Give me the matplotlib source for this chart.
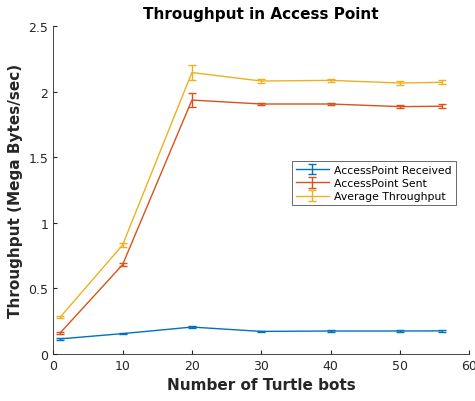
import matplotlib
matplotlib.use("Agg")
import matplotlib.pyplot as plt

bots = [1, 10, 20, 30, 40, 50, 56]

received = [0.115, 0.155, 0.205, 0.172, 0.175, 0.175, 0.176]
received_err = [0.005, 0.005, 0.008, 0.005, 0.005, 0.005, 0.005]

sent = [0.16, 0.68, 1.935, 1.905, 1.905, 1.885, 1.888]
sent_err = [0.008, 0.012, 0.055, 0.01, 0.01, 0.01, 0.015]

avg = [0.28, 0.83, 2.145, 2.08, 2.085, 2.065, 2.07]
avg_err = [0.008, 0.012, 0.055, 0.012, 0.012, 0.012, 0.015]

fig = plt.figure(figsize=(4.75, 4.02), dpi=100)
ax = fig.add_axes([0.112, 0.117, 0.876, 0.816])

cols = ['#0072BD', '#D95319', '#EDB120']
ax.errorbar(bots, received, yerr=received_err, color=cols[0], lw=1, capsize=3, label='AccessPoint Received')
ax.errorbar(bots, sent, yerr=sent_err, color=cols[1], lw=1, capsize=3, label='AccessPoint Sent')
ax.errorbar(bots, avg, yerr=avg_err, color=cols[2], lw=1, capsize=3, label='Average Throughput')

ax.set_xlim(0, 60)
ax.set_ylim(0, 2.5)
ax.set_xticks([0, 10, 20, 30, 40, 50, 60])
ax.set_yticks([0, 0.5, 1, 1.5, 2, 2.5])
ax.set_yticklabels(['0', '0.5', '1', '1.5', '2', '2.5'])
ax.spines['top'].set_visible(False)
ax.spines['right'].set_visible(False)
for s in ['left', 'bottom']:
    ax.spines[s].set_color('#262626')
    ax.spines[s].set_linewidth(0.6)
ax.tick_params(direction='in', labelsize=9, colors='#262626', length=3)

ax.set_title('Throughput in Access Point', fontsize=11, fontweight='bold', color='#000000')
ax.set_xlabel('Number of Turtle bots', fontsize=11, fontweight='bold', color='#262626')
ax.set_ylabel('Throughput (Mega Bytes/sec)', fontsize=11, fontweight='bold', color='#262626')

leg = ax.legend(loc='upper left', bbox_to_anchor=(0.575, 0.588), fontsize=7.8, frameon=True,
                fancybox=False, edgecolor='#262626', borderpad=0.35, labelspacing=0.3,
                handlelength=3.0, handletextpad=0.5, borderaxespad=0)
leg.get_frame().set_linewidth(0.6)

fig.savefig('out.png', dpi=100)
